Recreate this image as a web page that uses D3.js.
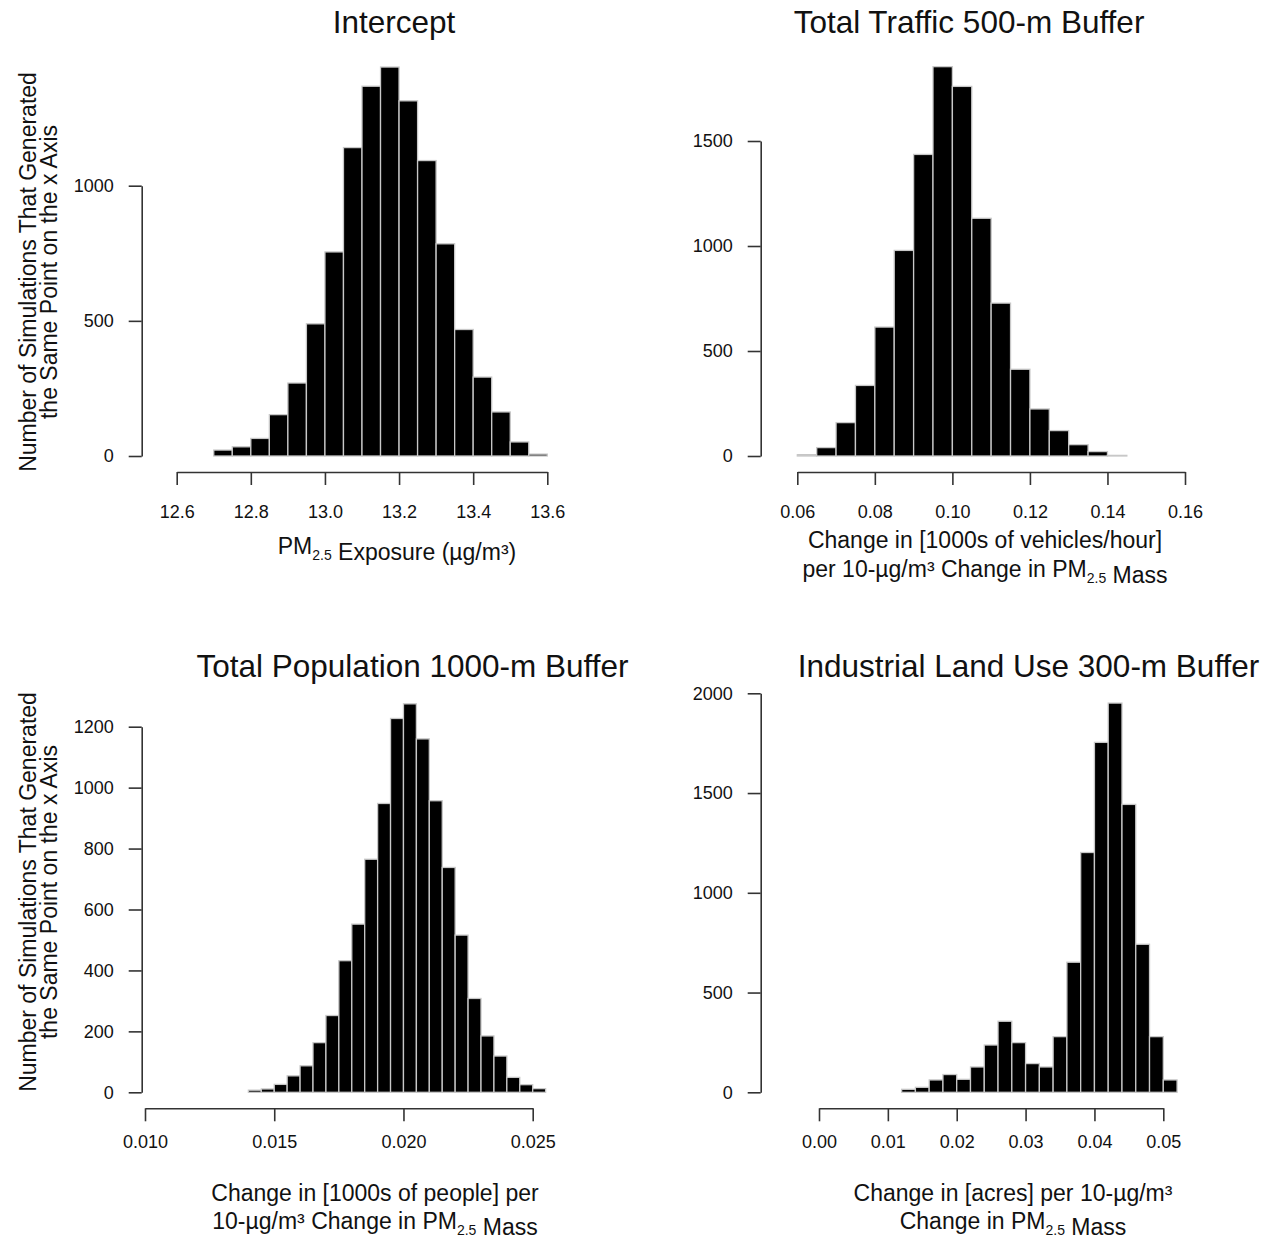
<!DOCTYPE html>
<html>
<head>
<meta charset="utf-8">
<script src="https://cdn.jsdelivr.net/npm/d3@7"></script>
<style>
  body { margin: 0; background: #fff; }
  svg { display: block; }
  text { font-family: "Liberation Sans", Arial, Helvetica, sans-serif; fill: #111; }
</style>
</head>
<body>
<svg id="chart" width="1275" height="1239"></svg>
<script>
// Counts of 10,000 simulations falling in each histogram bin, per model coefficient
const interceptStart = 12.70, interceptWidth = 0.05;
const interceptCounts = [22, 34, 65, 153, 270, 489, 755, 1141, 1368, 1439, 1314, 1093, 785, 468, 292, 163, 52, 7];

const trafficStart = 0.060, trafficWidth = 0.005;
const trafficCounts = [6, 40, 159, 336, 614, 979, 1436, 1854, 1760, 1132, 728, 413, 224, 121, 54, 21, 3];

const populationStart = 0.0140, populationWidth = 0.0005;
const populationCounts = [7, 11, 26, 54, 87, 163, 252, 432, 552, 765, 948, 1227, 1275, 1160, 957, 738, 516, 308, 185, 119, 49, 25, 12];

const industrialStart = 0.012, industrialWidth = 0.002;
const industrialCounts = [15, 25, 62, 89, 65, 127, 237, 356, 249, 144, 127, 279, 652, 1202, 1754, 1951, 1443, 742, 279, 62];

// Axis ticks
const interceptXTicks = [12.6, 12.8, 13.0, 13.2, 13.4, 13.6];
const trafficXTicks = [0.06, 0.08, 0.10, 0.12, 0.14, 0.16];
const populationXTicks = [0.010, 0.015, 0.020, 0.025];
const industrialXTicks = [0.00, 0.01, 0.02, 0.03, 0.04, 0.05];

const interceptYTicks = [0, 500, 1000];
const trafficYTicks = [0, 500, 1000, 1500];
const populationYTicks = [0, 200, 400, 600, 800, 1000, 1200];
const industrialYTicks = [0, 500, 1000, 1500, 2000];

// Titles
const titles = ["Intercept", "Total Traffic 500-m Buffer", "Total Population 1000-m Buffer", "Industrial Land Use 300-m Buffer"];

const yLabelLines = ["Number of Simulations That Generated", "the Same Point on the x Axis"];

// x-axis titles: each line is a list of [text, kind] runs (kind: "" normal, "sub" subscript)
const xTitles = [
  [[["PM", ""], ["2.5", "sub"], [" Exposure (\u00b5g/m\u00b3)", ""]]],
  [[["Change in [1000s of vehicles/hour]", ""]],
   [["per 10-\u00b5g/m\u00b3 Change in PM", ""], ["2.5", "sub"], [" Mass", ""]]],
  [[["Change in [1000s of people] per", ""]],
   [["10-\u00b5g/m\u00b3 Change in PM", ""], ["2.5", "sub"], [" Mass", ""]]],
  [[["Change in [acres] per 10-\u00b5g/m\u00b3", ""]],
   [["Change in PM", ""], ["2.5", "sub"], [" Mass", ""]]]
];

// Panel geometry
const panels = [
  { start: interceptStart, width: interceptWidth, counts: interceptCounts,
    xTicks: interceptXTicks, yTicks: interceptYTicks, fmt: d3.format(".1f"),
    xRange: [176.7, 547.3], yRange: [456, 185.7], yAxisX: 141.7, xAxisY: 472, xPad: 20,
    title: [394, 33], xTitle: [397, [554]], yLabel: [272] },
  { start: trafficStart, width: trafficWidth, counts: trafficCounts,
    xTicks: trafficXTicks, yTicks: trafficYTicks, fmt: d3.format(".2f"),
    xRange: [797.3, 1185], yRange: [456, 141], yAxisX: 760.7, xAxisY: 472, xPad: 20,
    title: [969, 33], xTitle: [985, [548, 577]], yLabel: null },
  { start: populationStart, width: populationWidth, counts: populationCounts,
    xTicks: populationXTicks, yTicks: populationYTicks, fmt: d3.format(".3f"),
    xRange: [145, 532.7], yRange: [1092.3, 726.7], yAxisX: 141.7, xAxisY: 1108.3, xPad: 14,
    title: [412.5, 677], xTitle: [375, [1201, 1229]], yLabel: [892] },
  { start: industrialStart, width: industrialWidth, counts: industrialCounts,
    xTicks: industrialXTicks, yTicks: industrialYTicks, fmt: d3.format(".2f"),
    xRange: [819, 1163.3], yRange: [1092.3, 693.3], yAxisX: 760.7, xAxisY: 1108.3, xPad: 14,
    title: [1028.5, 677], xTitle: [1013, [1201, 1229]], yLabel: null }
];

const svg = d3.select("#chart");
const axisColor = "#333";

function styleAxis(g) {
  g.selectAll(".domain").attr("stroke", axisColor).attr("stroke-width", 1.6);
  g.selectAll(".tick line").attr("stroke", axisColor).attr("stroke-width", 1.6);
  g.selectAll(".tick text").attr("font-size", 18).attr("fill", "#111")
    .attr("font-family", "Liberation Sans, Arial, Helvetica, sans-serif");
}

function writeRuns(textSel, runs) {
  runs.forEach(([t, kind]) => {
    if (kind === "sub") {
      textSel.append("tspan").attr("font-size", 14).attr("dy", 6).text(t);
      textSel.append("tspan").attr("dy", -6).text("");
    } else {
      textSel.append("tspan").text(t);
    }
  });
}

panels.forEach((p, i) => {
  const x = d3.scaleLinear()
    .domain([p.xTicks[0], p.xTicks[p.xTicks.length - 1]])
    .range(p.xRange);
  const y = d3.scaleLinear()
    .domain([0, p.yTicks[p.yTicks.length - 1]])
    .range(p.yRange);

  const bins = p.counts.map((c, k) => ({
    x0: p.start + k * p.width,
    x1: p.start + (k + 1) * p.width,
    count: c
  }));

  // Histogram bars
  svg.append("g")
    .selectAll("rect")
    .data(bins)
    .join("rect")
    .attr("x", d => x(d.x0))
    .attr("width", d => x(d.x1) - x(d.x0))
    .attr("y", d => y(d.count))
    .attr("height", d => y(0) - y(d.count))
    .attr("fill", "#000")
    .attr("stroke", "#c8c8c8")
    .attr("stroke-width", 1.3);

  // y axis (offset to the left of the bars)
  svg.append("g")
    .attr("transform", `translate(${p.yAxisX},0)`)
    .call(d3.axisLeft(y).tickValues(p.yTicks).tickFormat(d3.format("d"))
      .tickSize(13).tickSizeOuter(0).tickPadding(15))
    .call(styleAxis);

  // x axis (offset below the bars)
  svg.append("g")
    .attr("transform", `translate(0,${p.xAxisY})`)
    .call(d3.axisBottom(x).tickValues(p.xTicks).tickFormat(p.fmt)
      .tickSize(13).tickSizeOuter(0).tickPadding(p.xPad))
    .call(styleAxis);

  // Panel title
  svg.append("text")
    .attr("x", p.title[0]).attr("y", p.title[1])
    .attr("text-anchor", "middle")
    .attr("font-size", 31.5)
    .text(titles[i]);

  // x-axis title
  xTitles[i].forEach((runs, li) => {
    const t = svg.append("text")
      .attr("x", p.xTitle[0]).attr("y", p.xTitle[1][li])
      .attr("text-anchor", "middle")
      .attr("font-size", 23);
    writeRuns(t, runs);
  });

  // y-axis title (left column only)
  if (p.yLabel) {
    yLabelLines.forEach((line, li) => {
      svg.append("text")
        .attr("transform", `translate(${li === 0 ? 36 : 57},${p.yLabel[0]}) rotate(-90)`)
        .attr("text-anchor", "middle")
        .attr("font-size", 23)
        .text(line);
    });
  }
});
</script>
</body>
</html>
